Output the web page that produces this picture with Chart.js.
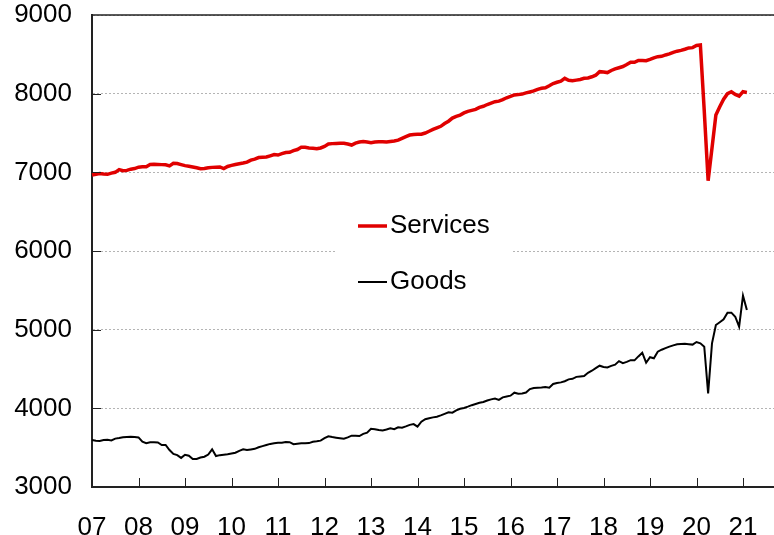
<!DOCTYPE html>
<html>
<head>
<meta charset="utf-8">
<script src="https://cdn.jsdelivr.net/npm/chart.js@4.4.1/dist/chart.umd.min.js"></script>
<style>
  html, body { margin: 0; padding: 0; background: #fff; }
</style>
</head>
<body>
<canvas id="pce-chart" width="774" height="535"></canvas>
<script>
// monthly, Jan 2007 .. Feb 2021
const yearLabels = ['07', '08', '09', '10', '11', '12', '13', '14', '15', '16', '17', '18', '19', '20', '21'];
const seriesNames = ['Services', 'Goods'];

const services = [
  6965, 6975, 6985, 6978, 6975, 6990, 7000, 7035, 7020, 7025, 7040, 7048,
  7065, 7070, 7072, 7100, 7102, 7100, 7098, 7095, 7082, 7115, 7112, 7098,
  7085, 7078, 7068, 7058, 7045, 7050, 7058, 7063, 7066, 7068, 7048, 7075,
  7088, 7100, 7110, 7118, 7130, 7155, 7168, 7188, 7192, 7195, 7210, 7225,
  7220, 7238, 7252, 7255, 7275, 7290, 7318, 7318, 7310, 7305, 7300, 7310,
  7330, 7360, 7365, 7368, 7370, 7370, 7360, 7347, 7372, 7385, 7393, 7385,
  7376, 7385, 7390, 7388, 7385, 7392, 7398, 7410, 7432, 7455, 7474, 7482,
  7483, 7485, 7500, 7522, 7545, 7565, 7585, 7620, 7650, 7690, 7712, 7728,
  7755, 7775, 7788, 7800, 7825, 7840, 7862, 7880, 7898, 7905, 7925, 7948,
  7965, 7984, 7988, 7995, 8010, 8022, 8035, 8055, 8068, 8075, 8100, 8128,
  8145, 8160, 8195, 8170, 8165, 8172, 8180, 8195, 8200, 8215, 8235, 8280,
  8275, 8268, 8295, 8315, 8330, 8345, 8370, 8400, 8398, 8423, 8422, 8420,
  8436, 8455, 8470, 8475, 8492, 8505, 8525, 8540, 8550, 8565, 8582, 8585,
  8612, 8618, 7780, 6893, 7310, 7728, 7834, 7930, 8000, 8025, 7990, 7968,
  8025, 8015
];

const goods = [
  3597, 3588, 3585, 3597, 3600, 3592, 3615, 3622, 3631, 3636, 3640, 3636,
  3630, 3575, 3556, 3568, 3568, 3566, 3534, 3534, 3470, 3420, 3405, 3370,
  3410, 3398, 3355, 3356, 3375, 3385, 3412, 3479, 3394, 3405, 3411, 3415,
  3425, 3436, 3460, 3479, 3470, 3478, 3485, 3505, 3520, 3534, 3548, 3556,
  3562, 3563, 3572, 3570, 3545, 3550, 3555, 3555, 3558, 3575, 3581, 3589,
  3620, 3645, 3635, 3627, 3620, 3614, 3630, 3652, 3650, 3648, 3675, 3690,
  3740, 3735, 3724, 3718, 3730, 3746, 3735, 3758, 3754, 3770, 3790, 3800,
  3767, 3830, 3862, 3875, 3885, 3894, 3910, 3930, 3949, 3945, 3975, 3995,
  4005, 4021, 4040, 4055, 4070, 4080, 4100, 4114, 4125, 4108, 4140, 4150,
  4161, 4199, 4185, 4190, 4200, 4245, 4258, 4262, 4265, 4271, 4263, 4310,
  4322, 4330, 4345, 4368, 4375, 4400, 4405, 4410, 4452, 4478, 4510, 4542,
  4525, 4520, 4540, 4555, 4600, 4575, 4590, 4612, 4610, 4660, 4707, 4580,
  4650, 4636, 4720, 4745, 4765, 4784, 4800, 4814, 4818, 4822, 4816, 4810,
  4843, 4827, 4784, 4190, 4826, 5059, 5095, 5131, 5216, 5216, 5165, 5038,
  5432, 5250
];

// axis runs on past the data to about Sep 2021
const months = [];
for (let i = 0; i < 177; i++) {
  months.push((2007 + Math.floor(i / 12)) + '-' + String(i % 12 + 1).padStart(2, '0'));
}

const FONT = 'Arial, "Liberation Sans", sans-serif';

// inward tick marks, top frame line and the boxed legend
const frameBits = {
  id: 'frameBits',
  beforeDatasetsDraw(chart) {
    const ctx = chart.ctx;
    ctx.save();
    ctx.fillStyle = '#fff';
    ctx.fillRect(335, 196, 178, 112);
    ctx.restore();
  },
  afterDraw(chart) {
    const { ctx, chartArea: a, scales: { x, y } } = chart;
    ctx.save();
    ctx.strokeStyle = '#222';
    ctx.lineWidth = 1;
    ctx.beginPath();
    for (let i = 0; i < months.length; i += 12) {
      const px = Math.round(x.getPixelForValue(i)) + 0.5;
      ctx.moveTo(px, a.bottom);
      ctx.lineTo(px, a.bottom - 9);
    }
    for (let v = 4000; v <= 8000; v += 1000) {
      const py = Math.round(y.getPixelForValue(v)) + 0.5;
      ctx.moveTo(a.left, py);
      ctx.lineTo(a.left + 9, py);
    }
    ctx.stroke();

    ctx.lineWidth = 1.5;
    ctx.beginPath();
    ctx.moveTo(a.left, a.top);
    ctx.lineTo(a.right, a.top);
    ctx.stroke();

    // legend
    const ds = chart.data.datasets;
    const rows = [226, 282];
    ctx.font = '26px ' + FONT;
    ctx.textBaseline = 'middle';
    ctx.fillStyle = '#000';
    rows.forEach((ly, k) => {
      ctx.strokeStyle = ds[k].borderColor;
      ctx.lineWidth = ds[k].borderWidth;
      ctx.beginPath();
      ctx.moveTo(358, ly);
      ctx.lineTo(387, ly);
      ctx.stroke();
      ctx.fillText(seriesNames[k], 390, ly);
    });
    ctx.restore();
  }
};

const ctx = document.getElementById('pce-chart').getContext('2d');
new Chart(ctx, {
  type: 'line',
  data: {
    labels: months,
    datasets: [{
      label: seriesNames[0],
      data: services,
      borderColor: '#e00000',
      borderWidth: 3.5,
      pointRadius: 0,
      tension: 0
    }, {
      label: seriesNames[1],
      data: goods,
      borderColor: '#000',
      borderWidth: 2,
      pointRadius: 0,
      tension: 0
    }]
  },
  options: {
    responsive: false,
    animation: false,
    devicePixelRatio: 1,
    layout: { padding: { top: 15, right: 0, left: 0, bottom: 0 } },
    plugins: { legend: { display: false }, tooltip: { enabled: false } },
    scales: {
      x: {
        afterFit: (s) => {
          s.height = 48;
          s.paddingLeft = 0;
          s.paddingRight = 0;
        },
        grid: { display: false },
        border: { color: '#222', width: 2 },
        ticks: {
          autoSkip: false,
          maxRotation: 0,
          padding: 17,
          color: '#000',
          font: { size: 26, family: FONT },
          callback: (val, i) => (i % 12 === 0 ? yearLabels[i / 12] : null)
        }
      },
      y: {
        min: 3000,
        max: 9000,
        afterFit: (s) => {
          s.width = 92;
          s.paddingTop = 0;
          s.paddingBottom = 0;
        },
        grid: { color: '#b4b4b4', lineWidth: 1, drawTicks: false },
        border: { color: '#222', width: 2, dash: [2, 2] },
        ticks: {
          stepSize: 1000,
          padding: 20,
          color: '#000',
          font: { size: 26, family: FONT },
          callback: (v) => String(v)
        }
      }
    }
  },
  plugins: [frameBits]
});
</script>
</body>
</html>
